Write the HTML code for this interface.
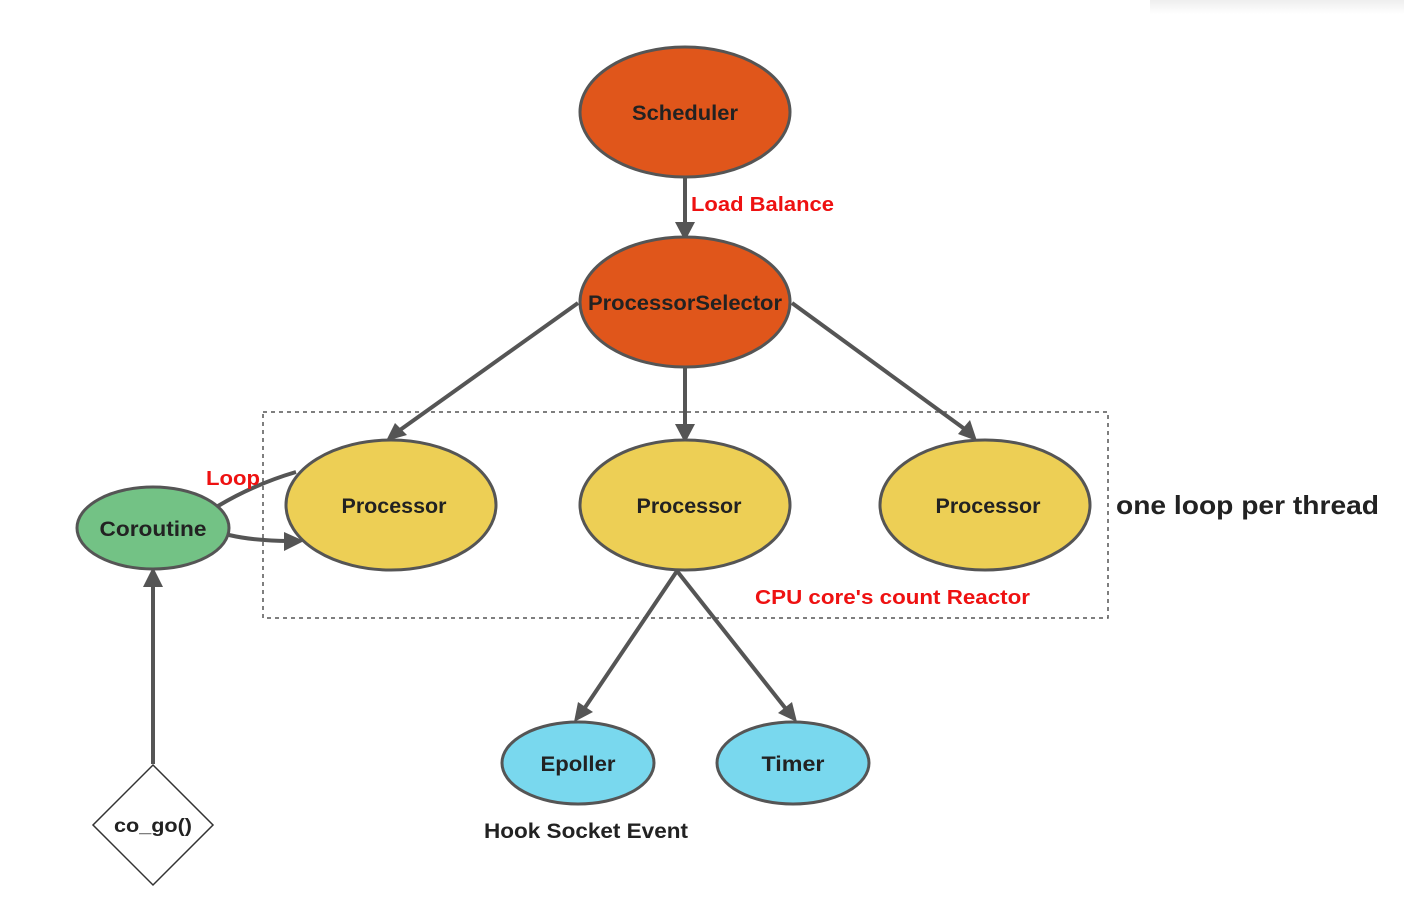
<!DOCTYPE html>
<html><head><meta charset="utf-8"><style>
html,body{margin:0;padding:0;background:#fff;width:1404px;height:917px;overflow:hidden}
text{font-family:"Liberation Sans","DejaVu Sans",sans-serif;font-weight:bold}
</style></head><body>
<svg width="1404" height="917" viewBox="0 0 1404 917" xmlns="http://www.w3.org/2000/svg">
<defs>
<linearGradient id="sh" x1="0" y1="0" x2="0" y2="1"><stop offset="0" stop-color="#eee"/><stop offset="1" stop-color="#fff"/></linearGradient>
</defs>
<rect x="1150" y="0" width="254" height="14" fill="url(#sh)"/>
<rect x="263" y="412" width="845" height="206" fill="none" stroke="#555" stroke-width="1.5" stroke-dasharray="4,4"/>
<g stroke="#555" stroke-width="4" fill="none">
<line x1="685" y1="178" x2="685" y2="224"/>
<line x1="578" y1="303" x2="400" y2="430"/>
<line x1="685" y1="368" x2="685" y2="428"/>
<line x1="792" y1="303" x2="966" y2="430"/>
<line x1="677" y1="571" x2="584" y2="709"/>
<line x1="677" y1="571" x2="786" y2="709"/>
<line x1="153" y1="764" x2="153" y2="584"/>
<path d="M218,506 Q255,484 296,472"/>
<path d="M229,535 Q255,541 290,541"/>
</g>
<g fill="#555">
<polygon points="675,222 695,222 685,241"/>
<polygon points="386,441 395,423 407,435"/>
<polygon points="675,424 695,424 685,443"/>
<polygon points="977,441 958,434 970,420"/>
<polygon points="574,722 578,702 593,712"/>
<polygon points="797,722 778,713 792,702"/>
<polygon points="143,587 163,587 153,567"/>
<polygon points="304,541 284,532 284,551"/>
</g>
<g stroke="#555" stroke-width="3">
<ellipse cx="685" cy="112" rx="105" ry="65" fill="#E0561B"/>
<ellipse cx="685" cy="302" rx="105" ry="65" fill="#E0561B"/>
<ellipse cx="391" cy="505" rx="105" ry="65" fill="#EDCF55"/>
<ellipse cx="685" cy="505" rx="105" ry="65" fill="#EDCF55"/>
<ellipse cx="985" cy="505" rx="105" ry="65" fill="#EDCF55"/>
<ellipse cx="153" cy="528" rx="76" ry="41" fill="#73C285"/>
<ellipse cx="578" cy="763" rx="76" ry="41" fill="#79D8EE"/>
<ellipse cx="793" cy="763" rx="76" ry="41" fill="#79D8EE"/>
</g>
<polygon points="153,765 213,825 153,885 93,825" fill="#fff" stroke="#333" stroke-width="1.5"/>
<g font-size="21" fill="#222" text-anchor="middle" lengthAdjust="spacingAndGlyphs">
<text x="685" y="120" textLength="106" lengthAdjust="spacingAndGlyphs">Scheduler</text>
<text x="685" y="310" textLength="194" lengthAdjust="spacingAndGlyphs">ProcessorSelector</text>
<text x="394" y="513" textLength="105" lengthAdjust="spacingAndGlyphs">Processor</text>
<text x="689" y="513" textLength="105" lengthAdjust="spacingAndGlyphs">Processor</text>
<text x="988" y="513" textLength="105" lengthAdjust="spacingAndGlyphs">Processor</text>
<text x="153" y="536" textLength="107" lengthAdjust="spacingAndGlyphs">Coroutine</text>
<text x="578" y="771" textLength="75" lengthAdjust="spacingAndGlyphs">Epoller</text>
<text x="793" y="771" textLength="63" lengthAdjust="spacingAndGlyphs">Timer</text>
<text x="153" y="832" font-size="19" textLength="78" lengthAdjust="spacingAndGlyphs">co_go()</text>
<text x="586" y="838" textLength="204" lengthAdjust="spacingAndGlyphs">Hook Socket Event</text>
</g>
<text x="1116" y="514" font-size="26" fill="#222" textLength="263" lengthAdjust="spacingAndGlyphs">one loop per thread</text>
<g fill="#ee1111" font-size="20">
<text x="691" y="211" textLength="143" lengthAdjust="spacingAndGlyphs">Load Balance</text>
<text x="206" y="485" textLength="54" lengthAdjust="spacingAndGlyphs">Loop</text>
<text x="755" y="604" textLength="275" lengthAdjust="spacingAndGlyphs">CPU core's count Reactor</text>
</g>
</svg>
</body></html>
